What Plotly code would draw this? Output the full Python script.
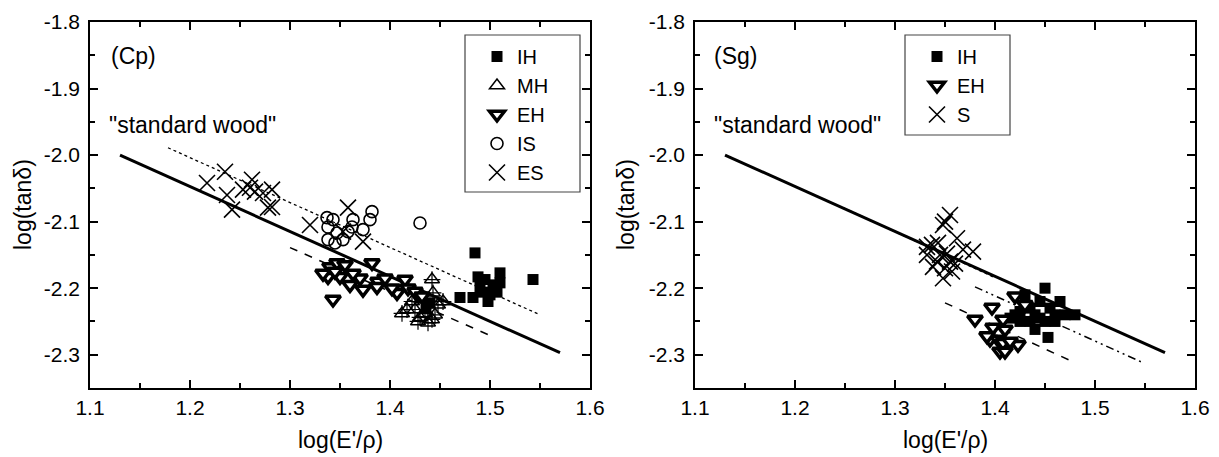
import plotly.graph_objects as go

# ---------------- data ----------------
# Left panel (Cp)
cp_ih_x = [1.485, 1.488, 1.510, 1.495, 1.503, 1.510, 1.490, 1.543, 1.470, 1.483, 1.498, 1.493, 1.507, 1.500, 1.430, 1.440, 1.436]
cp_ih_y = [-2.147, -2.183, -2.177, -2.187, -2.195, -2.192, -2.198, -2.187, -2.214, -2.214, -2.220, -2.206, -2.206, -2.210, -2.215, -2.222, -2.230]

cp_mh_x = [1.442, 1.443, 1.417, 1.425, 1.430, 1.442, 1.453, 1.448, 1.422, 1.435, 1.445, 1.428, 1.412, 1.438]
cp_mh_y = [-2.187, -2.207, -2.232, -2.232, -2.244, -2.247, -2.220, -2.225, -2.220, -2.238, -2.240, -2.250, -2.238, -2.252]

cp_eh_x = [1.340, 1.347, 1.355, 1.338, 1.350, 1.360, 1.373, 1.382, 1.370, 1.388, 1.343, 1.395, 1.415, 1.407, 1.402, 1.418, 1.333, 1.363, 1.387, 1.425, 1.432, 1.345]
cp_eh_y = [-2.168, -2.162, -2.165, -2.183, -2.183, -2.195, -2.202, -2.162, -2.185, -2.190, -2.217, -2.185, -2.187, -2.207, -2.200, -2.200, -2.178, -2.178, -2.198, -2.205, -2.212, -2.175]

cp_is_x = [1.337, 1.338, 1.343, 1.338, 1.347, 1.363, 1.362, 1.382, 1.380, 1.373, 1.353, 1.345, 1.358, 1.430]
cp_is_y = [-2.094, -2.108, -2.097, -2.127, -2.117, -2.097, -2.108, -2.085, -2.097, -2.112, -2.127, -2.132, -2.115, -2.102]

cp_es_x = [1.235, 1.217, 1.237, 1.242, 1.262, 1.253, 1.260, 1.265, 1.273, 1.282, 1.278, 1.282, 1.320, 1.358, 1.373, 1.353]
cp_es_y = [-2.025, -2.042, -2.060, -2.082, -2.037, -2.052, -2.049, -2.055, -2.057, -2.052, -2.079, -2.078, -2.105, -2.079, -2.130, -2.115]

# Right panel (Sg)
sg_ih_x = [1.420, 1.425, 1.430, 1.435, 1.440, 1.445, 1.450, 1.450, 1.455, 1.460, 1.465, 1.470, 1.480, 1.440, 1.453, 1.435, 1.445, 1.460, 1.425, 1.415]
sg_ih_y = [-2.240, -2.250, -2.210, -2.230, -2.240, -2.220, -2.200, -2.250, -2.230, -2.240, -2.220, -2.240, -2.240, -2.262, -2.274, -2.250, -2.245, -2.250, -2.235, -2.245]

sg_eh_x = [1.397, 1.380, 1.398, 1.408, 1.410, 1.395, 1.403, 1.408, 1.405, 1.410, 1.423, 1.415, 1.420, 1.430, 1.392]
sg_eh_y = [-2.229, -2.247, -2.259, -2.247, -2.262, -2.277, -2.277, -2.282, -2.295, -2.295, -2.285, -2.280, -2.212, -2.225, -2.272]

sg_s_x = [1.332, 1.337, 1.343, 1.348, 1.355, 1.350, 1.362, 1.368, 1.378, 1.332, 1.345, 1.352, 1.355, 1.360, 1.338, 1.350, 1.357, 1.348, 1.342]
sg_s_y = [-2.138, -2.135, -2.132, -2.105, -2.090, -2.100, -2.125, -2.142, -2.145, -2.150, -2.150, -2.148, -2.160, -2.163, -2.168, -2.170, -2.175, -2.185, -2.160]

# Regression / reference lines
std_x = [1.13, 1.57]
std_y = [-2.000, -2.297]

cp_dot_x = [1.178, 1.550]
cp_dot_y = [-1.989, -2.240]
cp_dash_x = [1.300, 1.500]
cp_dash_y = [-2.139, -2.271]

sg_dot_x = [1.248, 1.398]
sg_dot_y = [-2.079, -2.183]
sg_dashdot_x = [1.380, 1.548]
sg_dashdot_y = [-2.198, -2.312]
sg_dash_x = [1.350, 1.477]
sg_dash_y = [-2.222, -2.310]

x_ticks = [1.1, 1.2, 1.3, 1.4, 1.5, 1.6]
y_ticks = [-2.3, -2.2, -2.1, -2.0, -1.9, -1.8]

# ---------------- figure ----------------
W, H = 1219, 457
OFF = 8  # page body margin in the browser
FONT = "Liberation Sans, Arial, sans-serif"
FS_TICK = 21
FS_TEXT = 23
FS_LEG = 20

fig = go.Figure()


def line(x, y, xa, ya, width, dash):
    fig.add_trace(go.Scatter(x=x, y=y, mode="lines", xaxis=xa, yaxis=ya,
                             line=dict(color="black", width=width, dash=dash),
                             showlegend=False, hoverinfo="skip"))


# left lines
line(std_x, std_y, "x", "y", 3, "solid")
line(cp_dot_x, cp_dot_y, "x", "y", 1.3, "dot")
line(cp_dash_x, cp_dash_y, "x", "y", 1.5, "8px,8px")
# right lines
line(std_x, std_y, "x2", "y2", 3, "solid")
line(sg_dot_x, sg_dot_y, "x2", "y2", 1.3, "dot")
line(sg_dashdot_x, sg_dashdot_y, "x2", "y2", 1.5, "8px,4px,2px,4px,2px,4px")
line(sg_dash_x, sg_dash_y, "x2", "y2", 1.5, "8px,8px")

sq = dict(symbol="square", size=11, color="black", line=dict(width=0))
tri_up = dict(symbol="triangle-up-open", size=13, color="black", line=dict(width=1.5, color="black"))
tri_dn = dict(symbol="triangle-down", size=13, color="white", line=dict(width=3.5, color="black"))
circ = dict(symbol="circle-open", size=12, color="black", line=dict(width=1.6, color="black"))
xs = dict(symbol="x-thin-open", size=16, color="black", line=dict(width=1.6, color="black"))
crossm = dict(symbol="cross-thin-open", size=12, color="black", line=dict(width=1.2, color="black"))


def pts(x, y, name, marker, xa, ya, leg):
    fig.add_trace(go.Scatter(x=x, y=y, mode="markers", name=name, marker=marker,
                             xaxis=xa, yaxis=ya, legend=leg,
                             legendgroup=leg + name))


# left scatter
pts(cp_ih_x, cp_ih_y, "IH", sq, "x", "y", "legend")
pts(cp_mh_x, cp_mh_y, "MH", tri_up, "x", "y", "legend")
fig.add_trace(go.Scatter(x=cp_mh_x, y=cp_mh_y, mode="markers", marker=crossm, xaxis="x", yaxis="y",
                         showlegend=False, hoverinfo="skip"))
pts(cp_eh_x, cp_eh_y, "EH", tri_dn, "x", "y", "legend")
pts(cp_is_x, cp_is_y, "IS", circ, "x", "y", "legend")
pts(cp_es_x, cp_es_y, "ES", xs, "x", "y", "legend")

# right scatter
pts(sg_ih_x, sg_ih_y, "IH", sq, "x2", "y2", "legend2")
pts(sg_eh_x, sg_eh_y, "EH", tri_dn, "x2", "y2", "legend2")
pts(sg_s_x, sg_s_y, "S", xs, "x2", "y2", "legend2")


def px_x(p):
    return (p - OFF) / W


def px_y(p):
    return 1 - (p - OFF) / H


ydom = [px_y(388), px_y(22)]

axis_common = dict(
    showline=True, linecolor="black", linewidth=1.5, mirror="ticks",
    ticks="inside", ticklen=8, tickwidth=1.5, tickcolor="black",
    showgrid=False, zeroline=False, automargin=False,
    tickfont=dict(family=FONT, size=FS_TICK, color="black"),
    minor=dict(ticks="inside", ticklen=5, tickwidth=1.5, tickcolor="black",
               showgrid=False, dtick=0.05, tick0=0),
)

leg_common = dict(xanchor="left", yanchor="top", borderwidth=0,
                  bgcolor="rgba(0,0,0,0)", tracegroupgap=0,
                  font=dict(family=FONT, size=FS_LEG, color="black"))

fig.update_layout(
    width=W, height=H,
    template="none",
    margin=dict(l=0, r=0, t=0, b=0, autoexpand=False),
    paper_bgcolor="white", plot_bgcolor="white",
    font=dict(family=FONT, size=FS_TICK, color="black"),
    xaxis=dict(domain=[px_x(90), px_x(590)], range=[1.1, 1.6], tickvals=x_ticks,
               ticktext=[f"{v:.1f}" for v in x_ticks], anchor="y", **axis_common),
    yaxis=dict(domain=ydom, range=[-2.35, -1.8], tickvals=y_ticks, ticklabelstandoff=4,
               ticktext=[f"{v:.1f}" for v in y_ticks], anchor="x", **axis_common),
    xaxis2=dict(domain=[px_x(695), px_x(1195)], range=[1.1, 1.6], tickvals=x_ticks,
                ticktext=[f"{v:.1f}" for v in x_ticks], anchor="y2", **axis_common),
    yaxis2=dict(domain=ydom, range=[-2.35, -1.8], tickvals=y_ticks, ticklabelstandoff=4,
                ticktext=[f"{v:.1f}" for v in y_ticks], anchor="x2", **axis_common),
    legend=dict(x=px_x(477), y=px_y(37), **leg_common),
    legend2=dict(x=px_x(917), y=px_y(37), **leg_common),
)

# legend frames
fig.add_shape(type="rect", xref="paper", yref="paper",
              x0=px_x(465), x1=px_x(580), y0=px_y(192), y1=px_y(35),
              line=dict(color="#444", width=1.2), fillcolor="white", layer="below")
fig.add_shape(type="rect", xref="paper", yref="paper",
              x0=px_x(905), x1=px_x(1010), y0=px_y(135), y1=px_y(35),
              line=dict(color="#444", width=1.2), fillcolor="white", layer="below")

annos = [
    dict(text="(Cp)", x=px_x(109), y=px_y(56), xanchor="left", yanchor="middle", size=FS_TEXT),
    dict(text='"standard wood"', x=px_x(107), y=px_y(125), xanchor="left", yanchor="middle", size=FS_TEXT),
    dict(text="(Sg)", x=px_x(712), y=px_y(56), xanchor="left", yanchor="middle", size=FS_TEXT),
    dict(text='"standard wood"', x=px_x(712), y=px_y(125), xanchor="left", yanchor="middle", size=FS_TEXT),
    dict(text="log(E'/ρ)", x=px_x(340), y=px_y(440), xanchor="center", yanchor="middle", size=FS_TEXT),
    dict(text="log(E'/ρ)", x=px_x(945), y=px_y(440), xanchor="center", yanchor="middle", size=FS_TEXT),
    dict(text="log(tanδ)", x=px_x(23), y=px_y(205), xanchor="center", yanchor="middle", textangle=-90, size=FS_TEXT),
    dict(text="log(tanδ)", x=px_x(626), y=px_y(205), xanchor="center", yanchor="middle", textangle=-90, size=FS_TEXT),
]
for a in annos:
    s = a.pop("size")
    fig.add_annotation(xref="paper", yref="paper", showarrow=False,
                       font=dict(family=FONT, size=s, color="black"), **a)

fig.write_html("out.html")
